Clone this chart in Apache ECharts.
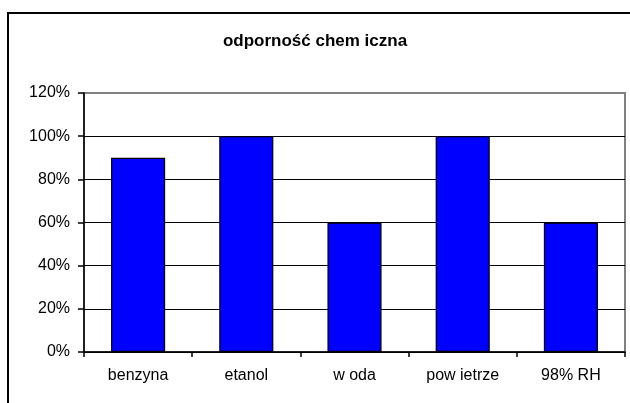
<!DOCTYPE html>
<html>
<head>
<meta charset="utf-8">
<script src="https://cdn.jsdelivr.net/npm/echarts@6/dist/echarts.min.js"></script>
<style>
  html, body { margin: 0; padding: 0; background: #fff; }
  #chart { width: 630px; height: 403px; }
</style>
</head>
<body>
<div id="chart"></div>
<script>
// data
const categories = ['benzyna', 'etanol', 'w oda', 'pow ietrze', '98% RH'];
const resistance = [90, 100, 60, 100, 60];
const yTicks = { min: 0, max: 120, step: 20 };

const chart = echarts.init(document.getElementById('chart'));
const font = 'Liberation Sans, Arial, sans-serif';

const options = {
  animation: false,
  backgroundColor: '#fff',
  title: {
    text: 'odporność chem iczna',
    left: 'center',
    top: 28,
    textStyle: { fontFamily: font, fontSize: 17, fontWeight: 'bold', color: '#000' }
  },
  graphic: [
    {
      // outer chart frame, runs off the right and bottom edges
      type: 'rect',
      shape: { x: 8, y: 13, width: 700, height: 500 },
      style: { fill: 'none', stroke: '#000', lineWidth: 2 },
      z: 100
    }
  ],
  grid: {
    left: 84, right: 5, top: 93, bottom: 51,
    show: true,
    borderColor: '#808080',
    borderWidth: 2
  },
  xAxis: {
    type: 'category',
    data: categories,
    axisLine: { lineStyle: { color: '#000', width: 1.5 } },
    axisTick: { show: true, alignWithLabel: false, length: 5, lineStyle: { color: '#000', width: 1.5 } },
    axisLabel: { margin: 16, color: '#000', fontFamily: font, fontSize: 16 }
  },
  yAxis: {
    type: 'value',
    min: yTicks.min,
    max: yTicks.max,
    interval: yTicks.step,
    axisLine: { show: true, lineStyle: { color: '#000', width: 1.5 } },
    axisTick: { show: true, length: 6, lineStyle: { color: '#000', width: 1.5 } },
    axisLabel: { formatter: '{value}%', margin: 14, color: '#000', fontFamily: font, fontSize: 16 },
    splitLine: {
      show: true,
      lineStyle: { color: ['#000', '#000', '#000', '#000', '#000', '#000', '#808080'], width: 1.2 }
    }
  },
  series: [
    {
      type: 'bar',
      data: resistance,
      barWidth: '50%',
      itemStyle: { color: '#0000ff', borderColor: '#000', borderWidth: 1.2 }
    }
  ]
};

chart.setOption(options);
</script>
</body>
</html>
